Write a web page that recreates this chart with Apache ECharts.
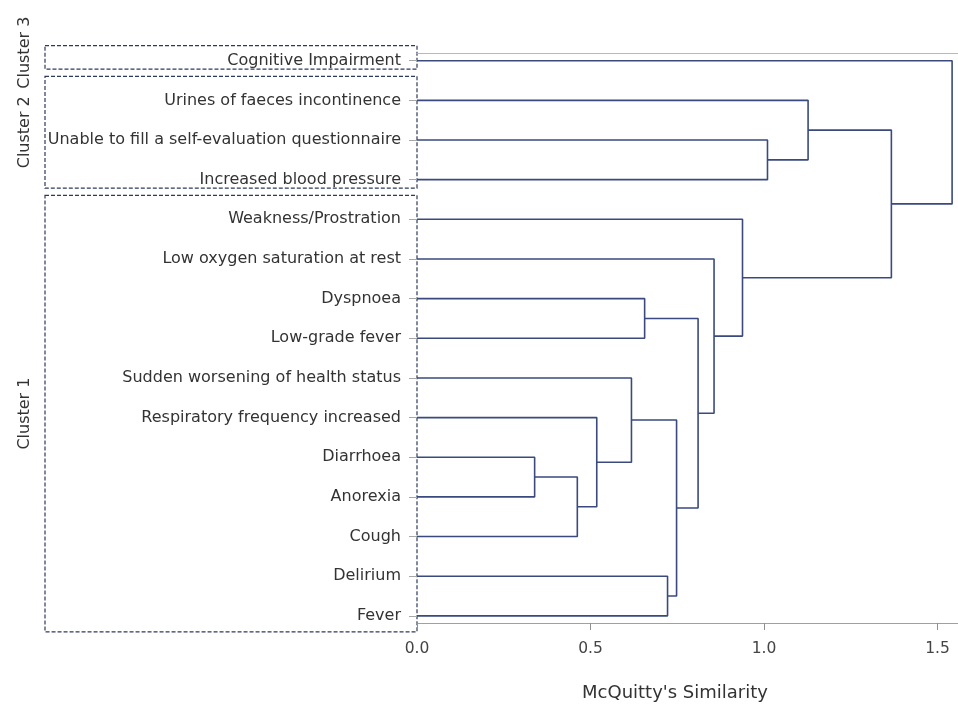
<!DOCTYPE html>
<html>
<head>
<meta charset="utf-8">
<script src="https://cdn.jsdelivr.net/npm/echarts@6/dist/echarts.min.js"></script>
<style>
  html, body { margin: 0; padding: 0; background: #ffffff; }
  #chart { width: 958px; height: 704px; }
</style>
</head>
<body>
<div id="chart"></div>
<script>
// Leaves of the dendrogram, top to bottom
const leafNames = [
  'Cognitive Impairment',
  'Urines of faeces incontinence',
  'Unable to fill a self-evaluation questionnaire',
  'Increased blood pressure',
  'Weakness/Prostration',
  'Low oxygen saturation at rest',
  'Dyspnoea',
  'Low-grade fever',
  'Sudden worsening of health status',
  'Respiratory frequency increased',
  'Diarrhoea',
  'Anorexia',
  'Cough',
  'Delirium',
  'Fever'
];

// Joins in order: ids 0-14 are leaves, each join gets id 15 + its position
const mergePairs = [
  [10, 11], [15, 12], [9, 16], [8, 17], [13, 14], [18, 19], [6, 7],
  [21, 20], [5, 22], [4, 23], [2, 3], [1, 25], [26, 24], [0, 27]
];
const mergeHeights = [
  0.339, 0.462, 0.518, 0.618, 0.722, 0.748, 0.656,
  0.810, 0.856, 0.938, 1.010, 1.127, 1.367, 1.542
];

const xTicks = [0, 0.5, 1.0, 1.5];

// Clusters shown as dashed boxes: [label, first leaf, last leaf]
const clusters = [
  ['Cluster 3', 0, 0],
  ['Cluster 2', 1, 3],
  ['Cluster 1', 4, 14]
];

const FONT = 'DejaVu Sans';
const LINK_COLOR = '#3a4a7e';

// Build the elbow links from the join table
const nodeY = leafNames.map((_, i) => i);
const nodeH = leafNames.map(() => 0);
const linkSeries = [];
mergePairs.forEach(([a, b], k) => {
  const h = mergeHeights[k];
  linkSeries.push({
    type: 'line',
    silent: true,
    symbol: 'none',
    animation: false,
    lineStyle: { color: LINK_COLOR, width: 1.6 },
    data: [
      [nodeH[a], nodeY[a]],
      [h, nodeY[a]],
      [h, nodeY[b]],
      [nodeH[b], nodeY[b]]
    ]
  });
  nodeY.push((nodeY[a] + nodeY[b]) / 2);
  nodeH.push(h);
});

const chart = echarts.init(document.getElementById('chart'), null, { renderer: 'canvas' });

const leafIdx = leafNames.map((_, i) => i);

chart.setOption({
  backgroundColor: '#ffffff',
  animation: false,
  grid: { left: 417, right: 0, top: 53, height: 570, containLabel: false },
  xAxis: [
    {
      type: 'value',
      position: 'bottom',
      min: 0,
      max: 1.559,
      axisLine: { show: true, onZero: false, lineStyle: { color: '#a0a0a0', width: 1.2 } },
      axisTick: { show: true, length: 7, customValues: xTicks, lineStyle: { color: '#909090', width: 1 } },
      axisLabel: {
        customValues: xTicks,
        margin: 18,
        color: '#444',
        fontFamily: FONT,
        fontSize: 15.5,
        formatter: v => Number(v).toFixed(1)
      },
      splitLine: { show: false }
    },
    {
      type: 'value',
      position: 'top',
      min: 0,
      max: 1.559,
      axisLine: { show: true, onZero: false, lineStyle: { color: '#b8b8b8', width: 1.2 } },
      axisTick: { show: false },
      axisLabel: { show: false },
      splitLine: { show: false }
    }
  ],
  yAxis: {
    type: 'value',
    inverse: true,
    min: -0.194,
    max: 14.18,
    axisLine: { show: false, onZero: false },
    axisTick: { show: true, length: 8, customValues: leafIdx, lineStyle: { color: '#a8a8a8' } },
    axisLabel: {
      customValues: leafIdx,
      margin: 16,
      color: '#333',
      fontFamily: FONT,
      fontSize: 16,
      formatter: v => leafNames[Math.round(v)]
    },
    splitLine: { show: false }
  },
  series: linkSeries
});

// Dashed cluster boxes and their rotated labels
const yPix = v => chart.convertToPixel({ yAxisIndex: 0 }, v);
const boxLeft = 45;
const boxRight = 417;
const graphics = [];
clusters.forEach(([name, first, last], i) => {
  const padTop = i === 0 ? 15 : 24;
  const padBottom = i === 2 ? 16 : 8.5;
  const top = yPix(first) - padTop;
  const bottom = yPix(last) + padBottom;
  graphics.push({
    type: 'rect',
    silent: true,
    shape: { x: boxLeft, y: top, width: boxRight - boxLeft, height: bottom - top },
    style: { fill: 'none', stroke: '#2e3a5c', lineWidth: 1.2, lineDash: [4, 2] }
  });
  const cy = i === 0 ? top + 7 : (top + bottom) / 2;
  graphics.push({
    type: 'text',
    silent: true,
    x: 25,
    y: cy,
    rotation: Math.PI / 2,
    style: {
      text: name,
      fill: '#333',
      font: '16px "' + FONT + '"',
      align: 'center',
      verticalAlign: 'middle'
    }
  });
});
graphics.push({
  type: 'text',
  silent: true,
  x: 675,
  y: 693,
  style: {
    text: "McQuitty's Similarity",
    fill: '#333',
    font: '18px "' + FONT + '"',
    align: 'center',
    verticalAlign: 'middle'
  }
});
chart.setOption({ graphic: graphics });
</script>
</body>
</html>
